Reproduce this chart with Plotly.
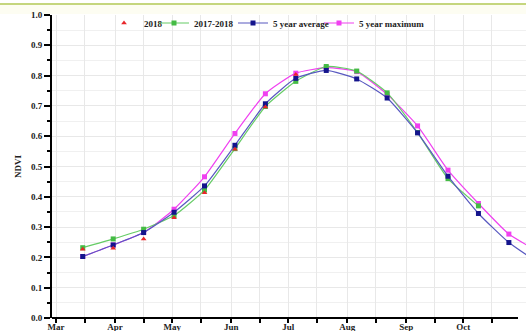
import plotly.graph_objects as go

dates = ["2018-03-15", "2018-03-31", "2018-04-16", "2018-05-02", "2018-05-18",
         "2018-06-03", "2018-06-19", "2018-07-05", "2018-07-21", "2018-08-06",
         "2018-08-22", "2018-09-07", "2018-09-23", "2018-10-09", "2018-10-25",
         "2018-11-10"]

ndvi_2018 = [0.227, 0.230, 0.261, 0.331, 0.413, 0.557, 0.696, 0.804]
ndvi_2017_2018 = [0.232, 0.261, 0.293, 0.338, 0.422, 0.559, 0.698, 0.781,
                  0.830, 0.815, 0.743, 0.612, 0.460, 0.370]
ndvi_5yr_avg = [0.203, 0.241, 0.282, 0.349, 0.436, 0.570, 0.707, 0.791,
                0.817, 0.789, 0.726, 0.611, 0.468, 0.345, 0.249, 0.180]
ndvi_5yr_max = [0.203, 0.241, 0.282, 0.359, 0.466, 0.609, 0.740, 0.808,
                0.826, 0.813, 0.738, 0.634, 0.488, 0.378, 0.277, 0.217]

tick_dates = ["2018-03-01", "2018-03-16", "2018-04-01", "2018-04-16",
              "2018-05-01", "2018-05-16", "2018-06-01", "2018-06-16",
              "2018-07-01", "2018-07-16", "2018-08-01", "2018-08-16",
              "2018-09-01", "2018-09-16", "2018-10-01", "2018-10-16"]
tick_text = ["Mar", "", "Apr", "", "May", "", "Jun", "", "Jul", "", "Aug", "",
             "Sep", "", "Oct", ""]

FONT = "Liberation Serif, Times New Roman, serif"
FS = 9

fig = go.Figure()

fig.add_trace(go.Scatter(
    x=dates[:len(ndvi_5yr_max)], y=ndvi_5yr_max, name="5 year maximum",
    mode="lines+markers", legend="legend4",
    line=dict(color="#f040f0", width=1.2, shape="spline", smoothing=0.5),
    marker=dict(symbol="square", size=5, color="#f040f0")))
fig.add_trace(go.Scatter(
    x=dates[:len(ndvi_2017_2018)], y=ndvi_2017_2018, name="2017-2018",
    mode="lines+markers", legend="legend2",
    line=dict(color="#66cc66", width=1.2, shape="spline", smoothing=0.5),
    marker=dict(symbol="square", size=5, color="#44bb44")))
fig.add_trace(go.Scatter(
    x=dates[:len(ndvi_5yr_avg)], y=ndvi_5yr_avg, name="5 year average",
    mode="lines+markers", legend="legend3",
    line=dict(color="#5858c0", width=1.2, shape="spline", smoothing=0.5),
    marker=dict(symbol="square", size=5, color="#14148c")))
fig.add_trace(go.Scatter(
    x=dates[:len(ndvi_2018)], y=ndvi_2018, name="2018",
    mode="markers", legend="legend",
    marker=dict(symbol="triangle-up", size=5, color="#e8262a")))

L0, PW = 52, 474
T0, PH = 15, 303


def px_x(p):
    return (p - L0) / PW


def px_y(p):
    return (T0 + PH - p) / PH


leg_common = dict(orientation="h", yanchor="middle", xanchor="left",
                  bgcolor="rgba(0,0,0,0)", borderwidth=0,
                  font=dict(size=FS, family=FONT, weight="bold", color="#222222"),
                  itemwidth=30)
ly = px_y(23)

fig.update_layout(
    width=526, height=331,
    margin=dict(l=L0, r=0, t=T0, b=331 - T0 - PH, autoexpand=False),
    paper_bgcolor="white", plot_bgcolor="white",
    font=dict(family=FONT, size=FS, color="#222222", weight="bold"),
    legend=dict(x=px_x(104), y=ly, **leg_common),
    legend2=dict(x=px_x(154), y=ly, **leg_common),
    legend3=dict(x=px_x(233), y=ly, **leg_common),
    legend4=dict(x=px_x(319), y=ly, **leg_common),
    showlegend=True,
    shapes=[
        dict(type="rect", xref="paper", yref="paper", x0=px_x(0), x1=1.0,
             y0=px_y(14), y1=px_y(4), fillcolor="#fdfdf2", line=dict(width=0), layer="below"),
        dict(type="line", xref="paper", yref="paper", x0=px_x(0), x1=1.0,
             y0=px_y(4), y1=px_y(4), line=dict(color="#c5d67e", width=2)),
        dict(type="line", xref="paper", yref="paper", x0=0, x1=px_x(518),
             y0=0, y1=0, line=dict(color="black", width=2), layer="above"),
    ],
)

fig.update_xaxes(
    type="date", range=["2018-02-26 20:00", "2018-11-03"],
    tickvals=tick_dates, ticktext=tick_text,
    ticks="outside", ticklen=4, tickwidth=1.5, tickcolor="black",
    ticklabelstandoff=-4,
    showline=False,
    showgrid=True, gridcolor="#e8e8e8", gridwidth=1,
    zeroline=False, automargin=False,
    tickfont=dict(size=FS, family=FONT, weight="bold"))

fig.update_yaxes(
    range=[0, 1.0], dtick=0.1, tickformat=".1f",
    ticks="outside", ticklen=6, tickwidth=1.5, tickcolor="black",
    showline=True, linecolor="black", linewidth=2,
    showgrid=True, gridcolor="#e8e8e8", gridwidth=1,
    minor=dict(dtick=0.05, ticks="outside", ticklen=3, tickcolor="black",
               showgrid=True, gridcolor="#f0f0f0"),
    zeroline=False, automargin=False,
    title=dict(text="NDVI", standoff=8, font=dict(size=FS, family=FONT, weight="bold")),
    tickfont=dict(size=FS, family=FONT, weight="bold"))

fig.write_html("out.html", config={"displayModeBar": False},
               post_script="document.body.style.margin='0';document.body.style.overflow='hidden';")
